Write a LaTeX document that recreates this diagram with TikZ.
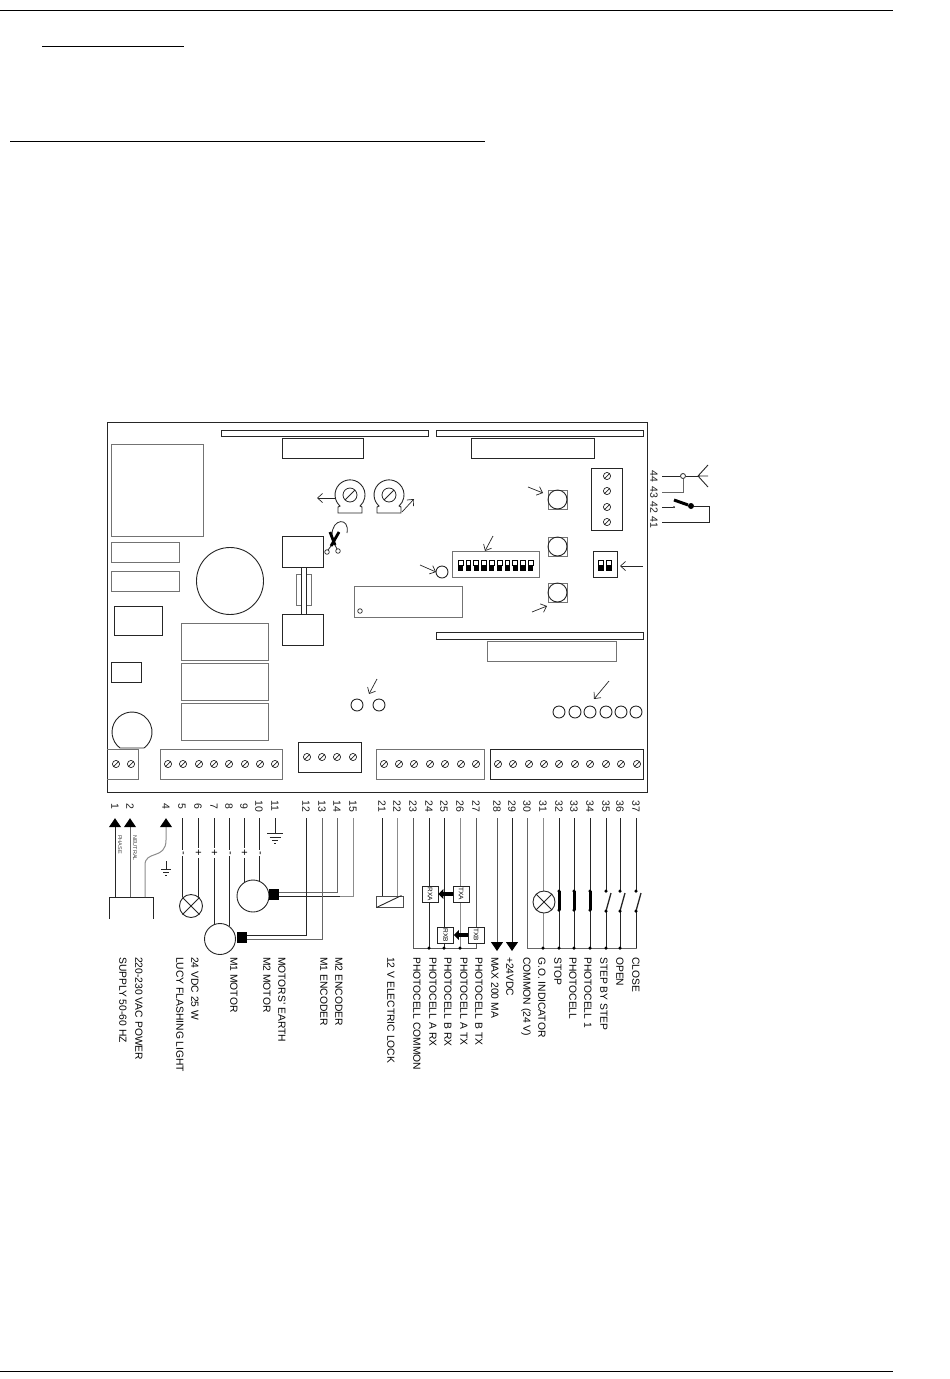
\documentclass[tikz,border=0pt]{standalone}
\usepackage{fontspec}
\setmainfont{Liberation Sans}
\usetikzlibrary{arrows.meta,positioning}
\tikzset
{
    part/.style     = {draw=black!85, line width=0.9pt},
    partgray/.style = {draw=black!55, line width=1pt},
    wire/.style     = {draw=black!85, line width=0.9pt},
    wiregray/.style = {draw=black!45, line width=1pt},
    pointer/.style  = {draw=black!85, line width=0.7pt, -{Straight Barb[length=5pt,width=9pt]}},
    feed/.style     = {-{Triangle[length=9pt,width=12pt,color=black]}},
    optic/.style    = {draw=black, line width=3.5pt, -{Triangle[length=5pt,width=10pt]}},
    termnum/.style  = {rotate=-90, minimum width=24pt, inner sep=0pt, font=\fontsize{10.5}{10.5}\selectfont, text=black!90},
    termlabel/.style= {rotate=-90, anchor=west, inner sep=0pt, font=\fontsize{10.3}{10.3}\selectfont, text=black},
    tinylabel/.style= {rotate=-90, anchor=west, inner sep=0pt, font=\fontsize{5.5}{5.5}\selectfont, text=black!75},
    polarity/.style = {rotate=-90, fill=white, inner sep=1.5pt, font=\fontsize{11}{11}\selectfont},
    lamp/.style     = {circle, draw=black!85, fill=white, line width=0.9pt, minimum size=23pt, inner sep=0pt},
    motor/.style    = {circle, draw=black!85, fill=white, line width=0.9pt, minimum size=32pt, inner sep=0pt},
    plug/.style     = {fill=black, minimum width=10pt, minimum height=11pt, inner sep=0pt},
    cellbox/.style  = {draw=black!85, fill=white, line width=0.9pt, minimum size=16pt, inner sep=0pt, rotate=-90, font=\fontsize{6.5}{6.5}\selectfont},
    junction/.style = {circle, fill=black, minimum size=3.5pt, inner sep=0pt},
    screw/.pic      = {\draw [black!85, line width=0.7pt] (0,0) circle (3.6) (-2.6,2.6) -- (2.6,-2.6);},
    bigscrew/.pic   = {\draw [black!85, line width=0.8pt] (0,0) circle (7) (-5,5) -- (5,-5);}
}

\begin{document}
\begin{tikzpicture}[x=1pt, y=-1pt]
    \useasboundingbox (0,0) rectangle (950,1379);
    % page rules
    \draw [line width=0.9pt] (0,10) -- (893,10);
    \draw [line width=0.9pt] (42,46) -- (184,46);
    \draw [line width=0.9pt] (10,141) -- (485,141);
    \draw [line width=0.9pt] (0,1371) -- (893,1371);

    % board
    \draw [part] (107,422.5) rectangle (647,792);
    \draw [part] (221,430) rectangle (428,436);
    \draw [part] (436,430) rectangle (643,436);
    \draw [part] (436,632) rectangle (643,639);
    \draw [part] (282,438) rectangle (363,458);
    \draw [part] (471,438) rectangle (594,458);
    \draw [partgray] (487,641) rectangle (616,661);
    \draw [partgray] (111,444) rectangle (203,536);
    \draw [partgray] (111,542) rectangle (179,562);
    \draw [partgray] (111,571) rectangle (179,591);
    \draw [part] (114,606) rectangle (162,635);
    \draw [part] (111,662) rectangle (141,682);
    \draw [part] (230,581) circle (33.5);
    \foreach \top in {623,663,703}
        \draw [partgray] (181,\top) rectangle (268,\top+37);
    \draw [part] (132,748) ++(-12,0) arc [start angle=127, end angle=413, radius=20] -- cycle;

    % terminal blocks
    \draw [partgray] (107,749) -- (138,749) -- (138,779) -- (107,779);
    \draw [partgray] (160,749) rectangle (282,779);
    \draw [part] (298,742) rectangle (361,772);
    \draw [partgray] (376,749) rectangle (484,779);
    \draw [part] (490,749) rectangle (643,779);
    \draw [part] (591,468) rectangle (622,530);
    \foreach \x in {116,131,168,183,199,214,229,245,260,275,384,399,414,430,445,461,476,498,513,529,544,559,575,590,606,621,637}
        \pic at (\x,764) {screw};
    \foreach \x in {307,322,337,353}
        \pic at (\x,757) {screw};
    \foreach \y in {476,491,507,522}
        \pic at (607,\y) {screw};

    % trimmers
    \foreach \x in {350,389}
    {
        \draw [part] (\x-12,513) -- (\x-12,507) -- (\x-10,506) arc [start angle=132, end angle=408, radius=15] -- (\x+12,507) -- (\x+12,513) -- cycle;
        \pic at (\x,495) {bigscrew};
    }
    \draw [pointer] (335,498) -- (317,498);
    \draw [pointer] (402,512) -- (414,499);

    % fuse holder
    \draw [partgray] (296,574) rectangle (311,605);
    \draw [part] (282,536) rectangle (323,567);
    \draw [part] (282,614) rectangle (323,645);
    \draw [part, fill=white] (301,567) rectangle (306,614);

    % scissors
    \draw [part, line width=0.8pt] (332,535) .. controls (332,518) and (350,517) .. (347,533);
    \draw [line width=2.8pt] (330,532) -- (335,545);
    \draw [line width=2.8pt] (339,532) -- (331,546);
    \draw [part, line width=0.8pt] (331,546) -- (328,550) (335,545) -- (337,549);
    \draw [part, line width=0.7pt] (327,552) circle (2.3) (338,551) circle (2.3);

    % chip
    \draw [partgray] (354,586) rectangle (462,617);
    \draw [part, line width=0.7pt] (360,611) circle (2.3);

    % push buttons
    \foreach \top in {490,537,583}
    {
        \draw [partgray] (548,\top) rectangle (567,\top+19);
        \draw [part] (557.5,\top+9.5) circle (9.5);
    }
    \draw [pointer] (528,487) -- (543,493);
    \draw [pointer] (532,612) -- (547,606);

    % dip switches
    \draw [partgray] (452,551) rectangle (539,577);
    \foreach \x in {460.5,468.3,476.1,483.9,491.7,499.5,507.3,515.1,522.9,530.7}
    {
        \draw [black, line width=0.6pt] (\x-2.4,560) rectangle (\x+2.4,565);
        \fill [black] (\x-2.6,565) rectangle (\x+2.6,570.5);
    }
    \draw [pointer] (493,536) -- (485,551);
    \draw [part] (593,551) rectangle (617,577);
    \foreach \x in {601,609}
    {
        \draw [black, line width=0.6pt] (\x-2.4,560) rectangle (\x+2.4,565);
        \fill [black] (\x-2.6,565) rectangle (\x+2.6,570.5);
    }
    \draw [pointer] (643,566) -- (620,566);

    % leds
    \draw [part] (442,572) circle (6);
    \draw [pointer] (420,565) -- (436,572);
    \draw [part] (357,705) circle (6) (379,705) circle (6);
    \draw [pointer] (377,679) -- (369,694);
    \foreach \x in {559,575,590,606,621,636}
        \draw [part] (\x,712) circle (6);
    \draw [pointer] (609,681) -- (594,699);

    % terminal numbers
    \foreach \n/\x in {1/115,2/130,4/166,5/182,6/198,7/214,8/229,9/244,10/259,11/275,12/306,13/322,14/337,15/353,21/382,22/397,23/413,24/429,25/444,26/460,27/476,28/497,29/512,30/527,31/543,32/559,33/574,34/590,35/606,36/620,37/636}
        \node [termnum] (t\n) at (\x,806) {\n};
    \foreach \n/\y in {44/476,43/492,42/507,41/522}
        \node [termnum, minimum width=0pt, minimum height=16pt] (t\n) at (654,\y) {\n};

    % wire labels
    \foreach \x/\txt [count=\i] in {123/SUPPLY 50-60 HZ,139/220-230 VAC POWER,180/LUCY FLASHING LIGHT,195/24 VDC 25 W,234/M1 MOTOR,267/M2 MOTOR,282/MOTORS' EARTH,324/M1 ENCODER,339/M2 ENCODER,391/12 V ELECTRIC LOCK,417/PHOTOCELL COMMON,433/PHOTOCELL A RX,448/PHOTOCELL B RX,464/PHOTOCELL A TX,479/PHOTOCELL B TX,495/MAX 200 MA,510/+24VDC,526/COMMON (24 V),542/G.O. INDICATOR,558/STOP,573/PHOTOCELL,588/PHOTOCELL 1,604/STEP BY STEP,620/OPEN,636/CLOSE}
        \node [termlabel] (label\i) at (\x,957) {\txt};
    \node [tinylabel] (phase) at (120,835) {PHASE};
    \node [tinylabel] (neutral) at (135,835) {NEUTRAL};

    % mains
    \coordinate (supplyA) at (115,897);
    \coordinate (supplyB) at (130,897);
    \draw [wire] (109,919) -- (109,897) -- (153,897) -- (153,919);
    \draw [wire, feed] (supplyA) -- (t1.east);
    \draw [wiregray, draw=black!60, feed] (supplyB) -- (t2.east);
    \draw [wiregray, feed] (145,897) -- (145,865) .. controls (145,850) and (166,860) .. (166,840) -- (t4.east);
    \draw [wire, line width=0.8pt] (166,861) -- (166,869) (161,869) -- (171,869) (163,872) -- (169,872) (165,875) -- (167,875);

    % flashing light
    \node [lamp] (light) at (191,906) {};
    \draw [wire] (light.north west) -- (light.south east) (light.north east) -- (light.south west);
    \draw [wire] (t5.east) -- (182,897);
    \draw [wire] (t6.east) -- (198,897);

    % motors
    \node [motor] (motorB) at (253,896) {};
    \node [motor, minimum size=31pt] (motorA) at (220,939) {};
    \draw [wire] (t7.east) -- (214,925);
    \draw [wire] (t8.east) -- (229,926);
    \draw [wire] (t9.east) -- (244,882);
    \draw [wire] (t10.east) -- (259,881);
    \node [plug] (plugB) at (273.5,894.5) {};
    \node [plug] (plugA) at (242,937.5) {};
    \draw [wiregray, draw=black!60] (t14.east) |- (plugB.east |- 0,892);
    \draw [wiregray] (t15.east) -- (353,896) -- (plugB.east |- 0,896);
    \draw [wire] (plugB.east |- 0,896) -- (340,896);
    \draw [wire] (t12.east) |- (plugA.east |- 0,935);
    \draw [wiregray, draw=black!60] (t13.east) |- (plugA.east |- 0,939);
    \foreach \n/\x/\s in {5/182/-,6/198/+,7/214/+,8/229/-,9/244/+,10/259/-}
        \node [polarity] (sign\n) at (\x,853) {\s};

    % earth
    \draw [wire, line width=0.8pt] (t11.east) -- (275,833) (267,833) -- (283,833) (269.5,837) -- (280.5,837) (272,840) -- (278,840) (274,843) -- (276,843);

    % lock
    \draw [wire] (t21.east) -- (382,896);
    \draw [wiregray] (t22.east) -- (397,896);
    \node [draw=black!70, line width=0.9pt, minimum width=27pt, minimum height=11pt, inner sep=0pt] (lock) at (389.5,901.5) {};
    \draw [wire] (lock.south west) ++(1,0) -- ([xshift=-2pt]lock.north east);

    % photocells
    \coordinate (busA) at (413,948);
    \coordinate (busB) at (476,948);
    \draw [wire, draw=black!65] (t23.east) |- (busB) -- (t27.east);
    \draw [wire] (t24.east) -- (429,948);
    \draw [wire] (t25.east) -- (444,948);
    \draw [wiregray] (t26.east) -- (460,948);
    \node [cellbox] (rxa) at (430,894) {RXA};
    \node [cellbox] (txa) at (461,894) {TXA};
    \node [cellbox] (rxb) at (445.5,935) {RXB};
    \node [cellbox] (txb) at (476,935) {TXB};
    \draw [optic] (txa) -- (rxa);
    \draw [optic] (txb) -- (rxb);
    \foreach \x in {429,444,460}
        \node [junction] (dot\x) at (\x,948) {};

    % 24 V outputs
    \draw [wire, draw=black!65, feed, shorten >=-1pt] (t28.east) -- (497,950);
    \draw [wire, feed, shorten >=-1pt] (t29.east) -- (512,950);

    % commands
    \coordinate (busC) at (636,948);
    \draw [wiregray, draw=black!60] (t30.east) |- (busC) -- (t37.east |- 0,911);
    \draw [wiregray] (t31.east) -- (543,948);
    \node [lamp, minimum size=22pt] (golight) at (544,902) {};
    \draw [wire] (golight.north west) -- (golight.south east) (golight.north east) -- (golight.south west);
    \foreach \n/\x in {32/559,33/574,34/590}
    {
        \draw [wire] (t\n.east) -- (\x,948);
        \draw [black, line width=3pt] (\x,891) -- (\x,910);
        \node [junction] (top\n) at (\x,891) {};
        \node [junction] (low\n) at (\x,910) {};
    }
    \foreach \n/\x in {35/606,36/620,37/636}
    {
        \draw [wire] (t\n.east) -- (\x,891);
        \draw [wire] (\x,911) -- (\x,948);
        \draw [black!85, line width=1.3pt] (\x,911) -- (\x+5,893);
        \node [junction] (top\n) at (\x,891) {};
        \node [junction] (low\n) at (\x,911) {};
    }
    \foreach \x in {543,559,574,590,606,620}
        \node [junction] (com\x) at (\x,948) {};

    % antenna and key switch
    \node [circle, draw=black!85, fill=white, line width=0.8pt, minimum size=5pt, inner sep=0pt] (jack) at (683,476) {};
    \coordinate (aerial) at (698,476);
    \draw [wire] (t44) -- (jack) -- (aerial);
    \draw [wiregray, draw=black!60] (t43) -| (jack);
    \draw [wire] (aerial) -- (708,465) (aerial) -- (708,476) (aerial) -- (708,487);
    \node [junction, minimum size=2pt] (keyin) at (674,507) {};
    \node [junction, minimum size=6pt] (keyout) at (691,506) {};
    \draw [wire] (t42) -- (keyin);
    \draw [black, line width=3pt] (674,500) -- (keyout);
    \draw [wire] (t41) -| (709,506) -- (keyout);
\end{tikzpicture}
\end{document}
